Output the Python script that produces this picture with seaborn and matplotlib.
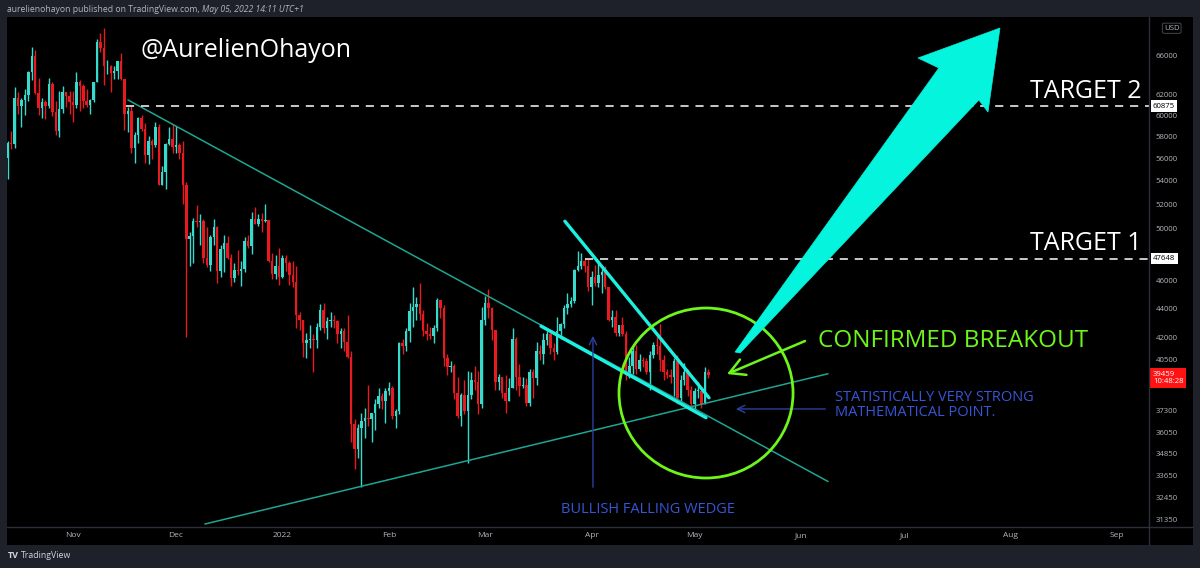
import numpy as np
import pandas as pd
import matplotlib
matplotlib.use("Agg")
import matplotlib.pyplot as plt
import matplotlib.dates as mdates
import matplotlib.transforms as mtransforms
from matplotlib.patches import Rectangle, Ellipse, Polygon
from matplotlib.lines import Line2D
from matplotlib.ticker import FixedLocator, NullLocator, NullFormatter
import seaborn as sns

# ---------------- data (BTCUSD daily, thousands of USD) ----------------
first_day = "2021-10-13"

opens_k = [
    56.0,57.4,57.3,61.7,60.9,61.5,62.0,64.3,66.0,62.2,60.7,61.3,60.9,63.1,60.3,58.5,60.6,62.3,61.9,
    61.3,61.0,63.3,62.9,61.4,61.0,61.5,63.3,67.5,66.9,64.9,64.9,64.2,64.4,65.5,63.6,60.1,60.4,56.9,58.1,59.7,58.7,56.3,57.6,57.2,58.9,53.6,54.8,57.3,57.8,
    57.0,57.2,56.5,53.6,49.2,49.4,50.6,50.5,50.6,47.7,47.2,49.3,50.1,46.7,48.4,48.9,47.7,46.2,46.8,46.7,46.9,49.0,48.6,50.8,50.4,50.8,50.6,50.7,47.5,46.5,47.1,
    46.3,47.7,47.3,46.4,45.9,43.5,43.2,41.6,41.8,41.9,41.8,42.7,43.9,42.6,43.1,43.2,43.1,42.2,42.4,41.7,40.7,36.5,35.1,36.3,36.7,36.9,36.8,37.2,37.7,38.2,37.9,
    38.5,38.7,37.0,37.3,41.6,41.4,42.4,43.8,44.1,44.3,43.6,42.4,42.2,42.1,42.6,44.6,44.0,40.6,40.0,40.1,38.4,37.0,38.3,37.3,38.3,39.2,39.1,37.7,
    43.2,44.4,44.0,42.5,39.1,39.4,38.4,37.9,38.7,41.9,39.4,38.8,38.9,37.8,39.7,39.3,41.1,40.9,41.8,42.2,41.3,41.0,42.4,42.9,44.0,44.3,44.5,46.8,47.1,47.5,47.1,
    45.5,46.3,45.8,46.4,46.6,45.5,43.2,43.4,42.3,42.8,42.2,39.5,40.1,41.1,39.9,40.5,40.4,39.7,40.8,41.5,41.4,40.5,39.7,39.5,39.4,40.4,38.1,39.2,39.7,38.6,
    37.7,38.5,38.5,37.7,39.7,
]
highs_k = [
    57.6,58.5,62.8,62.3,61.7,62.6,64.4,67.0,66.6,63.7,61.7,61.5,63.7,63.3,61.4,62.4,62.9,62.3,62.4,
    62.4,64.3,63.5,63.1,62.6,61.6,63.3,67.8,68.5,69.0,65.6,65.0,64.9,65.5,66.3,63.6,60.8,60.9,58.4,59.8,60.0,59.3,58.0,57.8,59.4,59.2,55.3,57.4,58.9,59.2,
    59.0,57.4,57.6,53.9,49.7,50.9,51.9,51.2,50.8,50.1,49.5,50.8,50.2,48.7,49.5,49.4,48.0,47.3,48.3,47.5,49.3,49.5,51.4,51.8,51.2,51.3,52.0,50.7,48.1,47.9,48.5,
    47.9,47.9,47.5,47.5,47.1,43.7,43.2,42.3,42.8,42.2,43.0,44.3,44.4,43.4,43.7,43.5,43.2,42.6,42.6,43.5,41.1,36.8,36.5,37.2,37.5,38.9,37.2,38.0,38.7,38.4,38.7,
    39.1,38.8,37.4,41.7,41.9,42.6,44.4,45.5,44.8,45.8,43.9,43.0,42.7,42.8,44.7,44.6,44.2,40.9,40.4,40.2,39.4,38.4,39.2,39.8,39.7,40.1,39.8,44.1,
    44.9,45.4,44.1,42.5,39.6,39.4,39.5,39.3,42.6,42.0,40.2,39.4,39.3,39.9,39.9,41.7,41.5,42.3,42.4,42.3,41.6,43.4,43.0,44.2,45.1,44.8,46.9,48.2,48.1,47.7,47.6,
    46.7,47.2,47.4,46.9,47.1,45.5,43.9,43.9,42.8,43.4,42.4,40.7,41.5,41.5,40.9,40.7,40.6,41.1,41.7,42.2,42.9,40.8,39.9,39.9,40.6,40.8,39.5,40.3,39.9,38.8,
    38.7,39.1,38.6,40.0,39.9,
]
lows_k = [
    54.2,56.8,56.9,60.1,58.9,60.0,61.4,63.5,62.1,60.0,59.7,59.6,60.7,59.9,58.1,57.9,60.2,60.8,60.1,
    59.4,60.7,60.4,60.7,60.8,60.1,61.3,63.3,66.4,63.0,64.1,62.3,63.6,63.6,63.5,58.6,58.4,56.5,55.6,57.4,58.5,55.6,55.5,55.9,57.0,53.6,53.6,53.3,57.2,56.5,
    56.5,55.9,52.0,42.0,47.1,47.3,50.1,48.7,47.3,47.0,46.7,48.7,45.8,46.3,46.6,47.6,45.6,45.9,46.4,45.6,46.6,48.5,48.0,50.4,50.2,49.7,50.5,47.4,46.1,46.1,45.7,
    46.2,46.7,45.7,45.5,42.6,42.5,40.7,40.6,41.3,39.7,41.3,42.5,42.3,41.9,42.7,42.6,41.6,41.3,41.1,40.6,35.5,34.0,34.6,33.0,35.7,36.4,35.5,36.2,37.5,37.4,36.6,
    38.3,36.8,36.3,37.1,40.9,41.1,41.7,42.7,43.2,43.2,42.1,41.8,41.9,41.6,42.4,43.3,40.1,39.5,39.7,38.0,36.9,36.4,37.1,34.3,38.0,38.6,37.1,37.5,
    42.8,43.3,41.8,38.6,38.6,38.1,37.2,37.9,38.7,38.6,38.2,38.7,37.6,37.6,38.1,38.9,40.5,40.2,41.5,40.9,40.5,40.9,41.9,42.6,43.6,44.1,44.4,46.7,46.9,46.6,45.2,
    44.2,45.6,45.5,45.1,45.4,43.1,42.7,42.1,42.1,42.1,39.2,39.3,39.6,39.6,39.8,40.0,39.6,38.6,40.6,40.9,39.8,39.2,39.3,39.0,38.2,37.7,37.9,38.9,38.2,37.6,
    37.4,38.1,37.5,37.7,39.3,
]
closes_k = [
    57.4,57.3,61.7,60.9,61.5,62.0,64.3,66.0,62.2,60.7,61.3,60.9,63.1,60.3,58.5,60.6,62.3,61.9,61.3,
    61.0,63.3,62.9,61.4,61.0,61.5,63.3,67.5,66.9,64.9,64.9,64.2,64.4,65.5,63.6,60.1,60.4,56.9,58.1,59.7,58.7,56.3,57.6,57.2,58.9,53.6,54.8,57.3,57.8,57.0,
    57.2,56.5,53.6,49.2,49.4,50.6,50.5,50.6,47.7,47.2,49.3,50.1,46.7,48.4,48.9,47.7,46.2,46.8,46.7,46.9,49.0,48.6,50.8,50.4,50.8,50.6,50.7,47.5,46.5,47.1,46.3,
    47.7,47.3,46.4,45.9,43.5,43.2,41.6,41.8,41.9,41.8,42.7,43.9,42.6,43.1,43.2,43.1,42.2,42.4,41.7,40.7,36.5,35.1,36.3,36.7,36.9,36.8,37.2,37.7,38.2,37.9,38.5,
    38.7,37.0,37.3,41.6,41.4,42.4,43.8,44.1,44.3,43.6,42.4,42.2,42.1,42.6,44.6,44.0,40.6,40.0,40.1,38.4,37.0,38.3,37.3,38.3,39.2,39.1,37.7,43.2,
    44.4,44.0,42.5,39.1,39.4,38.4,37.9,38.7,41.9,39.4,38.8,38.9,37.8,39.7,39.3,41.1,40.9,41.8,42.2,41.3,41.0,42.4,42.9,44.0,44.3,44.5,46.8,47.1,47.5,47.1,45.5,
    46.3,45.8,46.4,46.6,45.5,43.2,43.4,42.3,42.8,42.2,39.5,40.1,41.1,39.9,40.5,40.4,39.7,40.8,41.5,41.4,40.5,39.7,39.5,39.4,40.4,38.1,39.2,39.7,38.6,37.7,
    38.5,38.5,37.7,39.7,39.5,
]

price_ticks = [66000, 62000, 60000, 58000, 56000, 54000, 52000, 50000, 46000,
               44000, 42000, 40500, 37300, 36050, 34850, 33650, 32450, 31350]
month_ticks = ["2021-11-01", "2021-12-01", "2022-01-01", "2022-02-01", "2022-03-01", "2022-04-01",
               "2022-05-01", "2022-06-01", "2022-07-01", "2022-08-01", "2022-09-01"]
month_labels = ["Nov", "Dec", "2022", "Feb", "Mar", "Apr", "May", "Jun", "Jul", "Aug", "Sep"]

target1 = 47648
target2 = 60875
last_price = "39459"
countdown = "10:48:28"

# hand-drawn lines: (dates, prices)
upper_trend_d = ["2021-11-17 00:00", "2022-06-08 21:00"]
upper_trend_p = [61500, 33300]
lower_trend_d = ["2021-12-09 10:00", "2022-06-08 21:00"]
lower_trend_p = [31100, 39600]
wedge_top_d = ["2022-03-24 06:00", "2022-05-05 05:00"]
wedge_top_p = [50600, 38100]
wedge_bot_d = ["2022-03-17 07:00", "2022-05-04 08:00"]
wedge_bot_p = [42750, 36900]
target2_start = "2021-11-16 10:00"
target1_start = "2022-03-30 02:00"
wedge_arrow_d = ["2022-04-01 10:00", "2022-04-01 10:00"]
wedge_arrow_p = [32850, 42280]
point_arrow_d = ["2022-06-08 21:00", "2022-05-12 05:00"]
point_arrow_p = [37420, 37420]
breakout_arrow_d = ["2022-06-02 04:00", "2022-05-10 11:00"]
breakout_arrow_p = [41740, 39580]

# ---------------- style ----------------
BG_OUT = "#1e2129"
UP = "#35dccd"
DOWN = "#e8191f"
TEAL = "#1fa593"
CYAN = "#1cf0e0"
ARROW = "#05f4de"
GREEN = "#6ef51a"
BLUE = "#3756d6"
NAVY = "#2c3f9f"
AXTXT = "#b2b5be"

sns.set_theme(style="dark", rc={"axes.facecolor": "black", "figure.facecolor": BG_OUT,
                                "axes.grid": False})
plt.rcParams["font.family"] = ["Open Sans", "DejaVu Sans"]

W, H = 1200, 568
fig = plt.figure(figsize=(W / 100, H / 100), dpi=100)
fig.patch.set_facecolor(BG_OUT)

# black chart panel (plot + scales)
fig.add_artist(Rectangle((7 / W, 1 - 545 / H), 1186 / W, 528 / H, transform=fig.transFigure,
                         facecolor="black", edgecolor="none", zorder=0))

ax = fig.add_axes([7 / W, 1 - 527 / H, 1142 / W, 510 / H])
ax.set_facecolor("black")
for s in ax.spines.values():
    s.set_visible(False)

df = pd.DataFrame({
    "date": pd.date_range(first_day, periods=len(closes_k), freq="D"),
    "open": np.array(opens_k) * 1000,
    "high": np.array(highs_k) * 1000,
    "low": np.array(lows_k) * 1000,
    "close": np.array(closes_k) * 1000,
})
xd = mdates.date2num(df["date"])
is_up = (df["close"] >= df["open"]).to_numpy()
cols = np.where(is_up, UP, DOWN)

ax.set_yscale("log")
ax.vlines(xd, df["low"], df["high"], colors=cols, lw=1.0, zorder=3)
body_lo = np.minimum(df["open"], df["close"])
body_h = np.maximum(np.abs(df["close"] - df["open"]), 60)
ax.bar(xd, body_h, bottom=body_lo, width=0.72, color=cols, edgecolor="none", zorder=4)


def dn(ds):
    return mdates.date2num(pd.to_datetime(ds))


# trend lines via seaborn
sns.lineplot(x=dn(upper_trend_d), y=upper_trend_p, ax=ax, color=TEAL, lw=1.1, zorder=5)
sns.lineplot(x=dn(lower_trend_d), y=lower_trend_p, ax=ax, color=TEAL, lw=1.1, zorder=5)
sns.lineplot(x=dn(wedge_top_d), y=wedge_top_p, ax=ax, color=CYAN, lw=2.4, zorder=6)
sns.lineplot(x=dn(wedge_bot_d), y=wedge_bot_p, ax=ax, color=CYAN, lw=2.4, zorder=6)

xmin, xmax = dn("2021-10-12 19:00"), dn("2022-09-10 08:00")
ax.set_xlim(xmin, xmax)
ax.set_ylim(30952, 70270)

# target dashed lines
ax.hlines(target2, dn(target2_start), xmax, colors="#d9d9d9", lw=1.3, linestyles=(0, (4.5, 3.8)), zorder=5)
ax.hlines(target1, dn(target1_start), xmax, colors="#d9d9d9", lw=1.3, linestyles=(0, (4.5, 3.8)), zorder=5)

# navy arrows
ax.annotate("", xy=(dn(wedge_arrow_d[1]), wedge_arrow_p[1]), xytext=(dn(wedge_arrow_d[0]), wedge_arrow_p[0]),
            arrowprops=dict(arrowstyle="->,head_length=0.45,head_width=0.22", color=NAVY, lw=1.0), zorder=6)
ax.annotate("", xy=(dn(point_arrow_d[1]), point_arrow_p[1]), xytext=(dn(point_arrow_d[0]), point_arrow_p[0]),
            arrowprops=dict(arrowstyle="->,head_length=0.45,head_width=0.22", color=NAVY, lw=1.0), zorder=6)
# green arrow
ax.annotate("", xy=(dn(breakout_arrow_d[1]), breakout_arrow_p[1]),
            xytext=(dn(breakout_arrow_d[0]), breakout_arrow_p[0]),
            arrowprops=dict(arrowstyle="->,head_length=0.9,head_width=0.5", color=GREEN, lw=1.8,
                            shrinkA=0, shrinkB=0), zorder=7)

# green circle (axes fraction)
ax.add_patch(Ellipse((0.6121, 0.2627), 0.1524, 0.3333, transform=ax.transAxes, fill=False,
                     edgecolor=GREEN, lw=2.0, zorder=7))

# big cyan arrow (axes fraction)
big_arrow = [(0.6375, 0.3431), (0.6419, 0.3412), (0.8510, 0.8373), (0.8590, 0.8137),
             (0.8695, 0.9784), (0.7977, 0.9196), (0.8160, 0.9000)]
ax.add_patch(Polygon(big_arrow, closed=True, transform=ax.transAxes, facecolor=ARROW,
                     edgecolor=ARROW, lw=0.5, zorder=8))

# texts
ax.text(0.1165, 0.921, "@AurelienOhayon", transform=ax.transAxes, color="white", fontsize=18,
        ha="left", va="baseline", zorder=9)
ax.text(0.8958, 0.841, "TARGET 2", transform=ax.transAxes, color="white", fontsize=18,
        ha="left", va="baseline", zorder=9)
ax.text(0.8958, 0.543, "TARGET 1", transform=ax.transAxes, color="white", fontsize=18,
        ha="left", va="baseline", zorder=9)
ax.text(0.7100, 0.353, "CONFIRMED BREAKOUT", transform=ax.transAxes, color=GREEN, fontsize=17.5,
        ha="left", va="baseline", zorder=9)
ax.text(0.7250, 0.247, "STATISTICALLY VERY STRONG", transform=ax.transAxes, color=BLUE, fontsize=10.5,
        ha="left", va="baseline", zorder=9)
ax.text(0.7250, 0.2176, "MATHEMATICAL POINT.", transform=ax.transAxes, color=BLUE, fontsize=10.5,
        ha="left", va="baseline", zorder=9)
ax.text(0.4851, 0.0275, "BULLISH FALLING WEDGE", transform=ax.transAxes, color=BLUE, fontsize=10.5,
        ha="left", va="baseline", zorder=9)

# axes ticks
ax.yaxis.tick_right()
ax.yaxis.set_major_locator(FixedLocator(price_ticks))
ax.yaxis.set_minor_locator(NullLocator())
ax.yaxis.set_minor_formatter(NullFormatter())
ax.set_yticklabels([str(p) for p in price_ticks])
ax.xaxis.set_major_locator(FixedLocator(dn(month_ticks)))
ax.xaxis.set_minor_locator(NullLocator())
ax.set_xticklabels(month_labels)
ax.tick_params(axis="y", which="both", length=0, pad=5, labelsize=5.6, labelcolor=AXTXT)
ax.tick_params(axis="x", which="both", length=0, pad=3.5, labelsize=6, labelcolor=AXTXT)
ax.set_xlabel("")
ax.set_ylabel("")

# price-scale labels
blend = mtransforms.blended_transform_factory(ax.transAxes, ax.transData)
ax.text(1.0035, target2, str(target2), transform=blend, ha="left", va="center", fontsize=5.6, color="black",
        bbox=dict(boxstyle="square,pad=0.3", fc="white", ec="none"), clip_on=False, zorder=10)
ax.text(1.0035, target1, str(target1), transform=blend, ha="left", va="center", fontsize=5.6, color="black",
        bbox=dict(boxstyle="square,pad=0.3", fc="white", ec="none"), clip_on=False, zorder=10)
ax.text(1.0035, 0.3065, last_price + "\n" + countdown, transform=ax.transAxes, ha="left", va="top",
        fontsize=5.6, color="white", linespacing=1.1,
        bbox=dict(boxstyle="square,pad=0.35", fc="#ff1212", ec="none"), clip_on=False, zorder=10)
ax.text(1.0130, 0.978, "USD", transform=ax.transAxes, ha="left", va="center", fontsize=5.6, color=AXTXT,
        bbox=dict(boxstyle="round,pad=0.2", fc="black", ec="#50535e", lw=0.6), clip_on=False, zorder=10)

# separators
SEP = "#2b2f3a"
fig.add_artist(Line2D([1149 / W, 1149 / W], [1 - 545 / H, 1 - 17 / H], color=SEP, lw=1.0))
fig.add_artist(Line2D([7 / W, 1193 / W], [1 - 527 / H, 1 - 527 / H], color=SEP, lw=1.0))

# header / footer
t1 = fig.text(7 / W, 1 - 10 / H, "aurelienohayon published on TradingView.com, ", color=AXTXT,
              fontsize=6.2, ha="left", va="center")
r = fig.canvas.get_renderer()
bb = t1.get_window_extent(renderer=r)
fig.text(bb.x1 / W, 1 - 10 / H, "May 05, 2022 14:11 UTC+1", color=AXTXT, fontsize=6.2,
         style="italic", ha="left", va="center")
fig.text(8 / W, 1 - 556 / H, "TV", color="#d1d4dc", fontsize=6.5, fontweight="bold",
         ha="left", va="center")
fig.text(21 / W, 1 - 556 / H, "TradingView", color="#d1d4dc", fontsize=6.3, ha="left", va="center")

fig.savefig("out.png", dpi=100, facecolor=BG_OUT)
